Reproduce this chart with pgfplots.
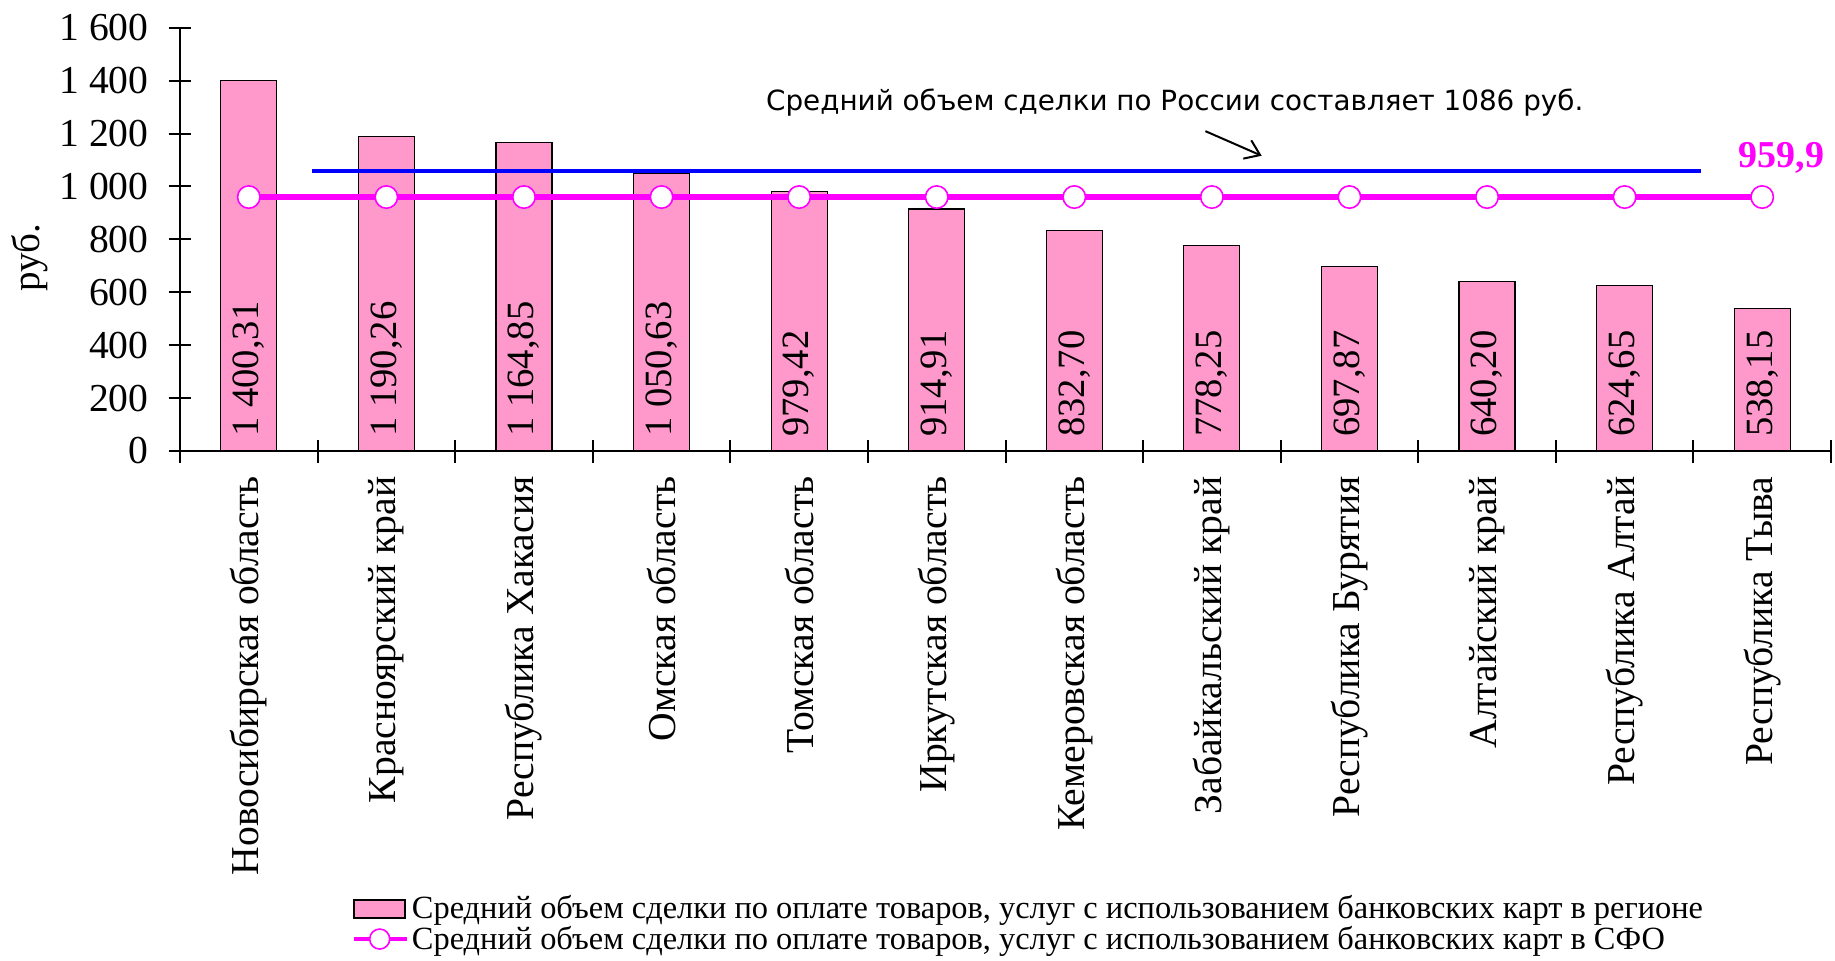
\documentclass[border=0pt]{standalone}
\usepackage{pgfplots}
\pgfplotsset{compat=1.18}
\usetikzlibrary{arrows.meta}
\usepackage{fontspec}
\setmainfont{Liberation Serif}
\newfontfamily\annfont{DejaVu Sans}
\newfontfamily\serif{Liberation Serif}
\definecolor{barpink}{RGB}{255,153,204}
\definecolor{sfo}{RGB}{255,0,255}
\definecolor{rus}{RGB}{0,0,255}
\begin{document}
\begin{tikzpicture}
\begin{axis}[
  at={(0,0)}, anchor=south west,
  scale only axis, width=825.5pt, height=211.65pt,
  xmin=-0.5, xmax=11.5, ymin=0, ymax=1600,
  clip=false,
  axis lines=left,
  axis line style={-, line width=1pt, black},
  tick align=center, major tick length=11.5pt,
  tick style={black, line width=1pt},
  ytick={0,200,...,1600},
  yticklabels={0,200,400,600,800,1~000,1~200,1~400,1~600},
  y tick label style={font=\serif\fontsize{19.8}{22}\selectfont, xshift=-6.5pt},
  xtick={-0.5,0.5,...,11.5},
  x tick label as interval,
  xticklabel shift=3.5pt,
  xticklabels={Новосибирская область, Красноярский край, Республика Хакасия, Омская область, Томская область, Иркутская область, Кемеровская область, Забайкальский край, Республика Бурятия, Алтайский край, Республика Алтай, Республика Тыва},
  x tick label style={rotate=90, anchor=east, font=\serif\fontsize{19.8}{22}\selectfont},
  ylabel={руб.},
  every axis y label/.style={at={(axis description cs:-0.091,0.457)}, anchor=center, rotate=90, font=\serif\fontsize{19.5}{22}\selectfont},
  legend style={at={(axis description cs:0.1036,-1.045)}, anchor=north west, draw=none, fill=none,
    font=\serif\fontsize{16.2}{17.5}\selectfont, row sep=0pt, inner sep=0pt,
    nodes={inner xsep=1.5pt, inner ysep=1pt}},
  legend cell align=left,
]
\addplot[ybar, bar width=28pt, fill=barpink, draw=black, line width=0.6pt,
  legend image code/.code={\draw[fill=barpink,draw=black,line width=0.8pt] (0pt,-4.5pt) rectangle (25.5pt,4.5pt);}]
  coordinates {(0,1400.31) (1,1190.26) (2,1164.85) (3,1050.63) (4,979.42) (5,914.91)
               (6,832.70) (7,778.25) (8,697.87) (9,640.20) (10,624.65) (11,538.15)};
\addlegendentry{Средний объем сделки по оплате товаров, услуг с использованием банковских карт в регионе}
\addplot[rus, line width=2pt, forget plot] coordinates {(0.46,1058) (10.556,1058)};
\addplot[sfo, line width=2.75pt, mark=*, mark size=5.6pt, mark options={fill=white, draw=sfo, line width=0.8pt},
  legend image code/.code={\draw[sfo, line width=2.25pt] (0pt,0pt) -- (26.5pt,0pt);
     \draw[fill=white, draw=sfo, line width=0.8pt] (13pt,0pt) circle (5pt);}]
  coordinates {(0,959.9) (1,959.9) (2,959.9) (3,959.9) (4,959.9) (5,959.9)
               (6,959.9) (7,959.9) (8,959.9) (9,959.9) (10,959.9) (11,959.9)};
\addlegendentry{Средний объем сделки по оплате товаров, услуг с использованием банковских карт в СФО}
\addplot[draw=none, forget plot, nodes near coords={\serif\pgfplotspointmeta}, point meta=explicit symbolic,
  nodes near coords style={rotate=90, anchor=west, inner xsep=7pt, font=\serif\fontsize{19.3}{21}\selectfont, text=black}]
  coordinates {(0,0) [1~400,31] (1,0) [1~190,26] (2,0) [1~164,85] (3,0) [1~050,63] (4,0) [979,42] (5,0) [914,91]
               (6,0) [832,70] (7,0) [778,25] (8,0) [697,87] (9,0) [640,20] (10,0) [624,65] (11,0) [538,15]};
\node[anchor=base, text=sfo, font=\serif\bfseries\fontsize{19}{21}\selectfont, inner sep=0pt] at (axis cs:11.14,1073) {959,9};
\node[anchor=center, font=\annfont\fontsize{13.9}{16}\selectfont, inner sep=0pt] at (axis cs:6.73,1318) {Средний объем сделки по России составляет 1086 руб.};
\draw[line width=1pt, -{Straight Barb[length=7pt,width=10pt]}] (axis cs:6.953,1209) -- (axis cs:7.362,1116);
\end{axis}
\pgfresetboundingbox
\path (-90pt,-254.5pt) rectangle (827.5pt,225.5pt);
\end{tikzpicture}
\end{document}
